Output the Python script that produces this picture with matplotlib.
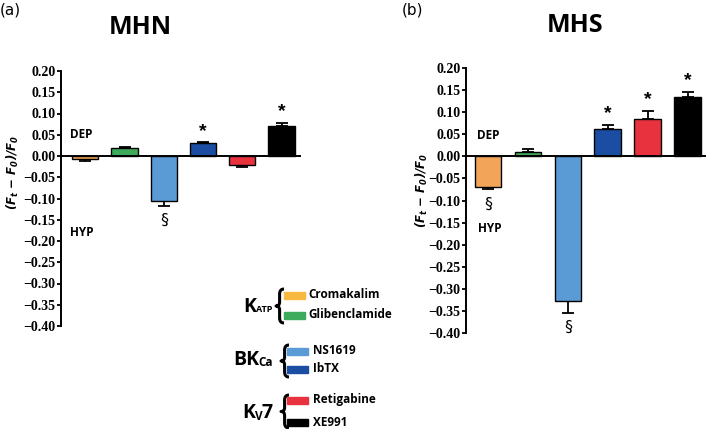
import matplotlib
matplotlib.use("Agg")
import matplotlib.pyplot as plt
from matplotlib.path import Path
from matplotlib.patches import PathPatch, Rectangle
import numpy as np

plt.rcParams["font.family"] = ["Liberation Serif", "DejaVu Sans"]
plt.rcParams["font.weight"] = "bold"
plt.rcParams["ytick.labelsize"] = 10

# ---- data ----
drugs = ["Cromakalim", "Glibenclamide", "NS1619", "IbTX", "Retigabine", "XE991"]
mhn_mean = [-0.008, 0.018, -0.107, 0.030, -0.021, 0.070]
mhn_sem = [0.003, 0.003, 0.010, 0.002, 0.006, 0.007]
mhn_sig = ["", "", "§", "*", "", "*"]
mhs_mean = [-0.070, 0.010, -0.327, 0.062, 0.084, 0.134]
mhs_sem = [0.005, 0.007, 0.027, 0.009, 0.019, 0.012]
mhs_sig = ["§", "", "§", "*", "*", "*"]
yticks = [0.20, 0.15, 0.10, 0.05, 0.00, -0.05, -0.10, -0.15, -0.20, -0.25, -0.30, -0.35, -0.40]

bar_colors = ["#F2A459", "#3DAA5C", "#5A9BD5", "#1B4EA2", "#E8333F", "#000000"]
legend_colors = ["#F7B93F", "#3DAA5C", "#5A9BD5", "#1B4EA2", "#E8333F", "#000000"]

W, H = 709, 429
fig = plt.figure(figsize=(W / 100, H / 100), dpi=100)


def px_axes(x0, x1, ytop, ybot):
    return fig.add_axes([x0 / W, 1 - ybot / H, (x1 - x0) / W, (ybot - ytop) / H])


sans = "Open Sans"


def panel(ax, means, sems, sigs, xlim):
    x = np.arange(len(means))
    means = np.array(means)
    sems = np.array(sems)
    lower = np.where(means < 0, sems, 0)
    upper = np.where(means >= 0, sems, 0)
    ax.bar(x, means, width=0.67, color=bar_colors, edgecolor="black", linewidth=1.0, zorder=2)
    ax.errorbar(x, means, yerr=[lower, upper], fmt="none", ecolor="black",
                elinewidth=1.3, capsize=4.5, capthick=1.3, zorder=1)
    ax.set_xlim(*xlim)
    ax.set_ylim(-0.40, 0.20)
    ax.set_yticks(yticks)
    ax.set_yticklabels([f"{t:.2f}".replace("-", "\u2212") for t in yticks])
    ax.tick_params(axis="y", length=3, width=1.3, pad=1)
    ax.set_xticks([])
    for s in ["top", "right"]:
        ax.spines[s].set_visible(False)
    ax.spines["left"].set_linewidth(1.4)
    ax.spines["bottom"].set_position(("data", 0))
    ax.spines["bottom"].set_linewidth(1.4)
    ax.patch.set_alpha(0)
    for xi, m, e, s in zip(x, means, sems, sigs):
        if not s:
            continue
        if m >= 0:
            ax.annotate(s, (xi, m + e), xytext=(0, 2), textcoords="offset points",
                        ha="center", va="bottom", fontsize=14, fontweight="bold",
                        fontfamily="Liberation Sans")
        else:
            ax.annotate(s, (xi, m - e), xytext=(0, -5), textcoords="offset points",
                        ha="center", va="top", fontsize=11.5, fontweight="normal",
                        fontfamily="DejaVu Sans")


ax1 = px_axes(61, 300, 71, 326)
panel(ax1, mhn_mean, mhn_sem, mhn_sig, (-0.62, 5.47))
ax2 = px_axes(466, 705, 68, 333)
panel(ax2, mhs_mean, mhs_sem, mhs_sig, (-0.55, 5.43))


def ftext(xp, yp, s, **kw):
    fig.text(xp / W, 1 - yp / H, s, **kw)


# panel labels and titles
ftext(0, 10, "(a)", fontsize=11, family="DejaVu Sans", fontweight="normal", va="center", ha="left")
ftext(402, 10, "(b)", fontsize=11, family="DejaVu Sans", fontweight="normal", va="center", ha="left")
ftext(140, 27, "MHN", fontsize=18, family=sans, fontweight="bold", ha="center", va="center")
ftext(575, 25, "MHS", fontsize=18, family=sans, fontweight="bold", ha="center", va="center")

# y labels
ylab = "(F$_\\mathregular{t}$ \u2212 F$_\\mathregular{0}$)/F$_\\mathregular{0}$"
for xp, yp in [(13, 172), (422, 190)]:
    ftext(xp, yp, ylab, rotation=90, fontsize=8.5, family="DejaVu Sans", style="italic",
          fontweight="bold", ha="center", va="center")

# DEP/HYP
for xp, yp, s in [(70, 134, "DEP"), (70, 232, "HYP"), (477, 136, "DEP"), (478, 229, "HYP")]:
    ftext(xp, yp, s, fontsize=8.5, family=sans, fontweight="bold", ha="left", va="center")


def brace(xl, xr, yt, yb):
    ym = (yt + yb) / 2
    xm = xl + 0.45 * (xr - xl)
    pts = [(xr, yt), (xm, yt), (xm, yt + 5),
           (xm, ym - 4),
           (xm, ym), (xl, ym),
           (xm, ym), (xm, ym + 4),
           (xm, yb - 5),
           (xm, yb), (xr, yb)]
    codes = [Path.MOVETO, Path.CURVE3, Path.CURVE3,
             Path.LINETO,
             Path.CURVE3, Path.CURVE3,
             Path.CURVE3, Path.CURVE3,
             Path.LINETO,
             Path.CURVE3, Path.CURVE3]
    verts = [(x / W, 1 - y / H) for x, y in pts]
    fig.patches.append(PathPatch(Path(verts, codes), transform=fig.transFigure,
                                 fill=False, lw=2.2, edgecolor="black",
                                 capstyle="butt", joinstyle="round"))


# legend: (brace x-left, brace top, brace bottom, rows, patch x, text x)
legend_items = [
    (276, 289, 323, [(295, 0), (315, 1)], 284, 308),
    (281, 345, 377, [(351, 2), (369, 3)], 287, 313),
    (281, 395, 428, [(400, 4), (422, 5)], 287, 313),
]
# group labels
ftext(243, 307, "K", fontsize=14, family=sans, fontweight="bold", ha="left", va="center")
ftext(256, 310, "ATP", fontsize=6.5, family=sans, fontweight="bold", ha="left", va="center")
ftext(233, 360, "BK", fontsize=14, family=sans, fontweight="bold", ha="left", va="center")
ftext(258, 363, "Ca", fontsize=8.5, family=sans, fontweight="bold", ha="left", va="center")
ftext(242, 413, "K", fontsize=14, family=sans, fontweight="bold", ha="left", va="center")
ftext(255, 416, "V", fontsize=8.5, family=sans, fontweight="bold", ha="left", va="center")
ftext(262, 413, "7", fontsize=14, family=sans, fontweight="bold", ha="left", va="center")

for bx, bt, bb, rows, px0, tx in legend_items:
    brace(bx, bx + 8, bt, bb)
    for ry, idx in rows:
        fig.patches.append(Rectangle((px0 / W, 1 - (ry + 3.5) / H), 21 / W, 7 / H,
                                     transform=fig.transFigure, color=legend_colors[idx]))
        ftext(tx, ry, drugs[idx], fontsize=8.5, family=sans, fontweight="bold",
              ha="left", va="center")

fig.savefig("out.png", dpi=100)
